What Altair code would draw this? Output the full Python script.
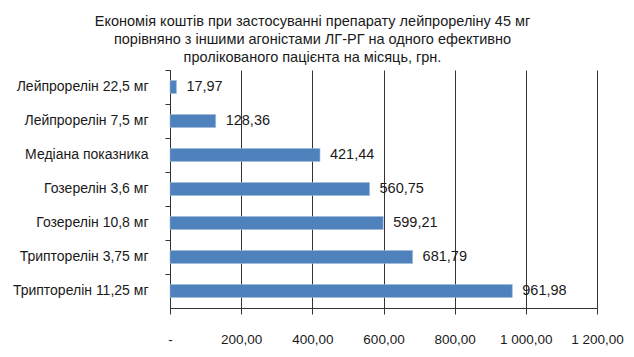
import altair as alt
import pandas as pd

categories = [
    "Лейпрорелін 22,5 мг",
    "Лейпрорелін 7,5 мг",
    "Медіана показника",
    "Гозерелін 3,6 мг",
    "Гозерелін 10,8 мг",
    "Трипторелін 3,75 мг",
    "Трипторелін 11,25 мг",
]
values = [17.97, 128.36, 421.44, 560.75, 599.21, 681.79, 961.98]
x_ticks = [0, 200, 400, 600, 800, 1000, 1200]
title_lines = [
    "Економія коштів при застосуванні препарату лейпрореліну 45 мг",
    "порівняно з іншими агоністами ЛГ-РГ на одного ефективно",
    "пролікованого пацієнта на місяць, грн.",
]

df = pd.DataFrame({"cat": categories, "value": values})

FONT = "Liberation Sans, Arial, sans-serif"
TXT = "#1a1a1a"
LINE = "#333333"

y_enc = alt.Y(
    "cat:N",
    sort=categories,
    title=None,
    scale=alt.Scale(paddingInner=0, paddingOuter=0),
    axis=alt.Axis(
        bandPosition=0,
        tickSize=5,
        tickColor=LINE,
        domainColor=LINE,
        labelPadding=17,
        labelFontSize=14,
        labelColor=TXT,
        labelFont=FONT,
        grid=False,
    ),
)

x_enc = alt.X(
    "value:Q",
    title=None,
    scale=alt.Scale(domain=[0, 1200], nice=False),
    axis=alt.Axis(
        values=x_ticks,
        grid=True,
        gridColor=LINE,
        gridOpacity=1,
        tickSize=6,
        tickColor=LINE,
        domainColor=LINE,
        labelPadding=18,
        labelFontSize=13.5,
        labelColor=TXT,
        labelFont=FONT,
        labelFlush=False,
        labelExpr="datum.value == 0 ? '-' : replace(replace(format(datum.value, ',.2f'), ',', ' '), '.', ',')",
    ),
)

bars = alt.Chart(df).mark_bar(size=13, color="#4F81BD", stroke="#9db7d9", strokeWidth=0.6).encode(
    x=x_enc, y=y_enc
)

labels = (
    alt.Chart(df)
    .transform_calculate(lbl="replace(format(datum.value, '.2f'), '.', ',')")
    .mark_text(align="left", baseline="middle", dx=10, fontSize=14.5, font=FONT, color=TXT)
    .encode(x="value:Q", y=alt.Y("cat:N", sort=categories), text="lbl:N")
)

chart = (
    alt.layer(bars, labels)
    .properties(
        width=427,
        height=238,
        autosize=alt.AutoSizeParams(type="none"),
        padding={"left": 170, "top": 70, "right": 37, "bottom": 49},
        title=alt.TitleParams(
            text=title_lines,
            fontSize=14.5,
            font=FONT,
            fontWeight="normal",
            color=TXT,
            lineHeight=18,
            anchor="middle",
            dx=-71,
            offset=4,
        ),
    )
    .configure_view(stroke=None)
)

chart.save("out.html", embed_options={"renderer": "svg", "actions": False})
